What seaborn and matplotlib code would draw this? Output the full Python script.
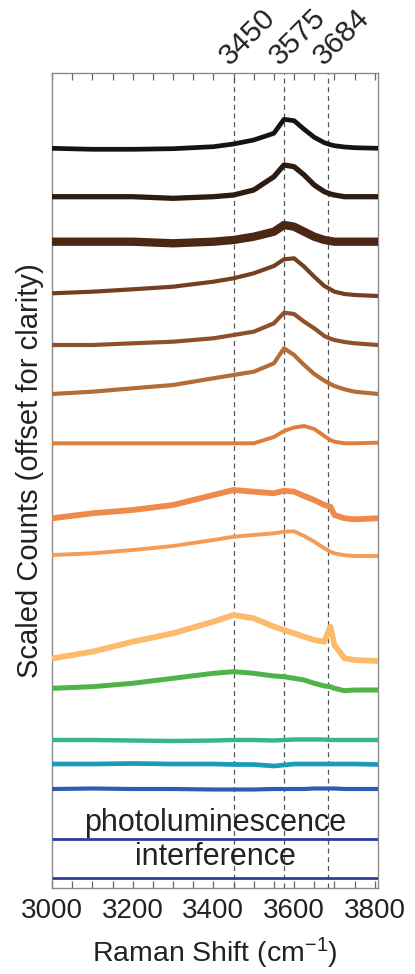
import matplotlib
matplotlib.use("Agg")
import matplotlib.pyplot as plt
from matplotlib.ticker import MultipleLocator
import seaborn as sns
import pandas as pd

# ---------------- data ----------------
raman_shift = [3000, 3100, 3200, 3300, 3400, 3450, 3500, 3550, 3575, 3600,
               3625, 3650, 3675, 3690, 3700, 3725, 3750, 3808]

s01 = [73.97, 73.87, 73.87, 73.93, 74.13, 74.40, 74.80, 75.47, 76.87, 76.73,
       75.87, 75.07, 74.53, 74.33, 74.23, 74.10, 74.03, 73.97]
s02 = [69.13, 69.13, 69.13, 68.97, 69.13, 69.30, 69.80, 71.13, 72.30, 72.13,
       71.30, 70.30, 69.63, 69.40, 69.30, 69.13, 69.13, 69.13]
s03 = [64.63, 64.63, 64.63, 64.47, 64.63, 64.80, 65.13, 65.63, 66.30, 66.13,
       65.63, 65.13, 64.80, 64.70, 64.63, 64.63, 64.63, 64.63]
s04 = [59.47, 59.63, 59.87, 60.13, 60.63, 60.97, 61.47, 62.20, 62.87, 62.97,
       62.13, 61.13, 60.20, 59.87, 59.63, 59.40, 59.30, 59.20]
s05 = [54.30, 54.30, 54.47, 54.63, 54.97, 55.30, 55.63, 56.47, 57.53, 57.40,
       56.63, 55.97, 55.20, 54.93, 54.80, 54.60, 54.47, 54.30]
s06 = [49.40, 49.63, 49.97, 50.30, 50.97, 51.30, 51.63, 52.47, 53.97, 53.30,
       52.30, 51.40, 50.73, 50.40, 50.20, 49.87, 49.63, 49.40]
s07 = [44.47, 44.47, 44.47, 44.47, 44.47, 44.47, 44.47, 45.10, 45.70, 46.05,
       46.20, 45.90, 45.20, 44.80, 44.63, 44.47, 44.47, 44.53]
s08 = [36.97, 37.47, 37.80, 38.30, 39.30, 39.80, 39.63, 39.47, 39.73, 39.63,
       39.20, 38.80, 38.30, 38.13, 37.30, 36.97, 36.87, 36.97]
s09 = [33.30, 33.47, 33.80, 34.20, 34.80, 35.13, 35.30, 35.47, 35.63, 35.67,
       35.20, 34.63, 33.97, 33.63, 33.47, 33.27, 33.20, 33.20]
s10 = [22.95, 23.63, 24.63, 25.47, 26.63, 27.30, 26.97, 26.13, 25.80, 25.47,
       25.13, 24.80, 24.63, 26.13, 24.30, 22.97, 22.80, 22.70]
s11 = [19.97, 20.13, 20.47, 20.97, 21.47, 21.63, 21.47, 21.20, 21.13, 20.97,
       20.80, 20.47, 20.20, 20.13, 19.97, 19.73, 19.80, 19.80]
s12 = [14.80, 14.80, 14.75, 14.70, 14.75, 14.80, 14.80, 14.75, 14.80, 14.85,
       14.85, 14.85, 14.85, 14.80, 14.80, 14.80, 14.80, 14.80]
s13 = [12.40, 12.40, 12.45, 12.40, 12.40, 12.35, 12.35, 12.20, 12.30, 12.40,
       12.40, 12.40, 12.40, 12.40, 12.40, 12.40, 12.40, 12.35]
s14 = [9.90, 9.95, 9.90, 9.90, 9.85, 9.85, 9.85, 9.90, 9.90, 9.90,
       9.90, 9.95, 9.95, 9.95, 9.95, 9.90, 9.90, 9.90]
s15 = [4.90, 4.90, 4.90, 4.90, 4.90, 4.90, 4.90, 4.90, 4.90, 4.90,
       4.90, 4.90, 4.90, 4.90, 4.90, 4.90, 4.90, 4.90]
s16 = [1.05, 1.05, 1.05, 1.05, 1.05, 1.05, 1.05, 1.05, 1.05, 1.05,
       1.05, 1.05, 1.05, 1.05, 1.05, 1.05, 1.05, 1.05]

series_names = ["s01", "s02", "s03", "s04", "s05", "s06", "s07", "s08",
                "s09", "s10", "s11", "s12", "s13", "s14", "s15", "s16"]
series_values = [s01, s02, s03, s04, s05, s06, s07, s08,
                 s09, s10, s11, s12, s13, s14, s15, s16]

peak_positions = [3450, 3575, 3684]
peak_labels = ["3450", "3575", "3684"]
x_ticks = [3000, 3200, 3400, 3600, 3800]

# ---------------- styles ----------------
colors = ["#141414", "#2e1b10", "#4a2813", "#74401f", "#8e522b", "#b46d37",
          "#dd7d3b", "#ee8a4a", "#f39c58", "#fbbb6b", "#50b348", "#38b68c",
          "#1c9bb6", "#2c5cb6", "#2c3d9e", "#303f9c"]
widths = [3.4, 3.8, 6.0, 3.0, 3.0, 3.0, 2.8, 4.2, 2.8, 4.2, 3.6, 3.2,
          3.4, 3.0, 2.0, 2.0]

rows = []
for name, vals in zip(series_names, series_values):
    for x, y in zip(raman_shift, vals):
        rows.append({"shift": x, "counts": y, "series": name})
df = pd.DataFrame(rows)

sns.set_style("ticks")
plt.rcParams["font.family"] = ["Liberation Sans", "DejaVu Sans"]
plt.rcParams["mathtext.fontset"] = "custom"
plt.rcParams["mathtext.rm"] = "Liberation Sans"
plt.rcParams["mathtext.it"] = "Liberation Sans:italic"

fig = plt.figure(figsize=(4.15, 9.74), dpi=100)
ax = fig.add_axes([52 / 415, 1 - 888 / 974, 326 / 415, 815 / 974])

for x0 in peak_positions:
    ax.axvline(x0, color="#555555", lw=0.9, ls=(0, (4, 3)), zorder=1)

for name, c, w in zip(series_names, colors, widths):
    sns.lineplot(data=df[df["series"] == name], x="shift", y="counts",
                 color=c, lw=w, estimator=None, sort=True, ax=ax,
                 legend=False, zorder=3, solid_capstyle="butt")

ax.set_xlim(3000, 3808)
ax.set_ylim(0, 81.5)
ax.set_xticks(x_ticks)
ax.xaxis.set_minor_locator(MultipleLocator(50))
ax.set_yticks([])
ax.tick_params(axis="x", which="both", direction="in", top=True, bottom=True,
               length=5, width=0.9, color="#666666", labelsize=20, pad=7,
               labelcolor="#222222")
for sp in ax.spines.values():
    sp.set_color("#8a8a8a")
    sp.set_linewidth(1.0)
    sp.set_visible(True)

ax.set_xlabel("Raman Shift (cm$^{\\mathregular{-1}}$)", fontsize=20.5,
              color="#222222", va="center")
ax.xaxis.set_label_coords(0.5, -0.080)
ax.set_ylabel("Scaled Counts (offset for clarity)", fontsize=21,
              color="#222222", va="center")
ax.yaxis.set_label_coords(-0.068, 0.512)

for x0, lab in zip(peak_positions, peak_labels):
    ax.annotate(lab, xy=(x0, 1.0), xycoords=("data", "axes fraction"),
                xytext=(-3, 5), textcoords="offset points", rotation=45,
                rotation_mode="anchor", ha="left", va="baseline",
                fontsize=21.5, color="#222222", annotation_clip=False)

ax.text(0.50, (888 - 823) / 815, "photoluminescence", transform=ax.transAxes,
        ha="center", va="center", fontsize=22, color="#222222", zorder=4)
ax.text(0.50, (888 - 857) / 815, "interference", transform=ax.transAxes,
        ha="center", va="center", fontsize=22, color="#222222", zorder=4)

fig.savefig("out.png", dpi=100, facecolor="white")
